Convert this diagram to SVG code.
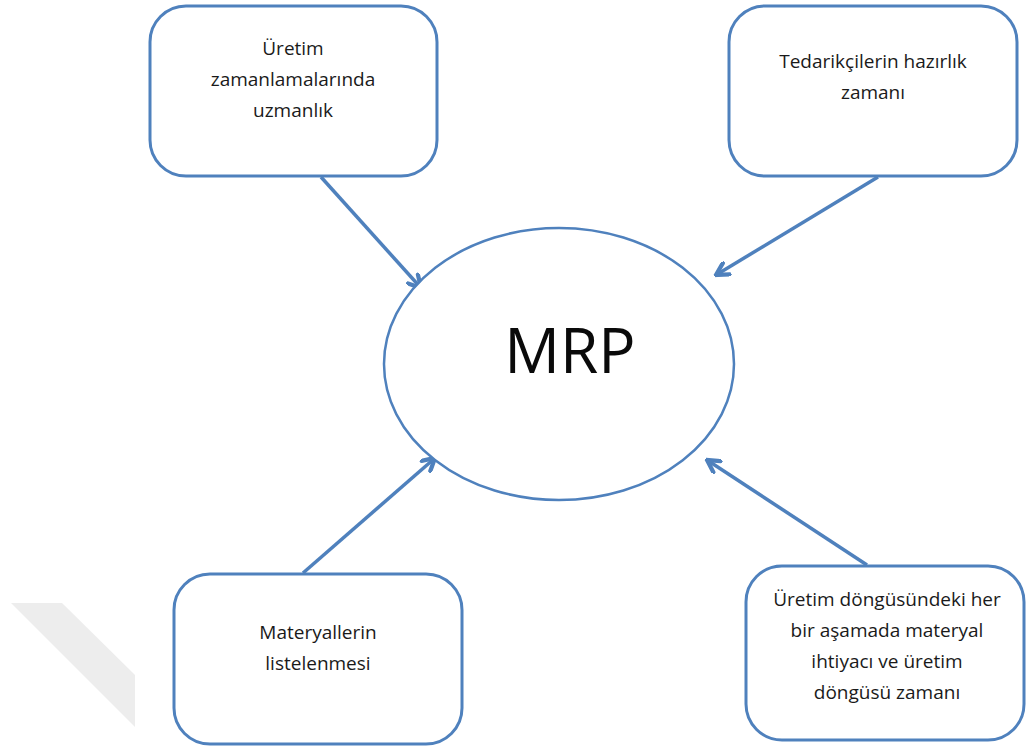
<svg xmlns="http://www.w3.org/2000/svg" width="1027" height="749" viewBox="0 0 1027 749">
  <style>
    .box { fill: #ffffff; stroke: #4f81bd; stroke-width: 3; }
    .hub { fill: #ffffff; stroke: #4f81bd; stroke-width: 2.5; }
    .lbl { font-family: "Open Sans", "Liberation Sans", sans-serif; font-size: 19px; fill: #1a1a1a; text-anchor: middle; }
    .big { font-family: "Open Sans", "Liberation Sans", sans-serif; font-size: 62px; fill: #0a0a0a; text-anchor: middle; }
    .link { stroke: #4f81bd; stroke-width: 3.5; fill: none; marker-end: url(#arrow); }
  </style>
  <defs>
    <marker id="arrow" viewBox="0 0 12 12" refX="10.5" refY="6" markerWidth="16" markerHeight="16" markerUnits="userSpaceOnUse" orient="auto">
      <path d="M1.5,1 L10.5,6 L1.5,11" fill="none" stroke="#4f81bd" stroke-width="3.2" stroke-linecap="round" stroke-linejoin="miter"/>
    </marker>
  </defs>
  <rect width="1027" height="749" fill="#ffffff"/>

  <!-- faint diagonal band, lower left -->
  <polygon points="11,603 62,603 135,675 135,727" fill="#ededed"/>

  <!-- connectors -->
  <g id="connectors">
    <line class="link" x1="321" y1="177" x2="421" y2="288"/>
    <line class="link" x1="878" y1="177" x2="716" y2="275"/>
    <line class="link" x1="303" y1="573" x2="435" y2="458"/>
    <line class="link" x1="867" y1="565" x2="707" y2="460"/>
  </g>

  <!-- central node -->
  <g id="mrp">
    <ellipse class="hub" cx="559" cy="364" rx="175" ry="136"/>
    <text class="big" x="570" y="373">MRP</text>
  </g>

  <g id="uretim-zamanlama">
    <rect class="box" x="150" y="6" width="287" height="170" rx="36" ry="36"/>
    <text class="lbl" x="293" y="55">Üretim</text>
    <text class="lbl" x="293" y="86">zamanlamalarında</text>
    <text class="lbl" x="293" y="117">uzmanlık</text>
  </g>

  <g id="tedarikci">
    <rect class="box" x="729" y="6" width="288" height="170" rx="36" ry="36"/>
    <text class="lbl" x="873" y="68">Tedarikçilerin hazırlık</text>
    <text class="lbl" x="873" y="99">zamanı</text>
  </g>

  <g id="materyal-liste">
    <rect class="box" x="174" y="574" width="288" height="170" rx="36" ry="36"/>
    <text class="lbl" x="318" y="639">Materyallerin</text>
    <text class="lbl" x="318" y="670">listelenmesi</text>
  </g>

  <g id="dongu">
    <rect class="box" x="746" y="566" width="278" height="174" rx="36" ry="36"/>
    <text class="lbl" x="887" y="606">Üretim döngüsündeki her</text>
    <text class="lbl" x="887" y="637">bir aşamada materyal</text>
    <text class="lbl" x="887" y="668">ihtiyacı ve üretim</text>
    <text class="lbl" x="887" y="699">döngüsü zamanı</text>
  </g>
</svg>
